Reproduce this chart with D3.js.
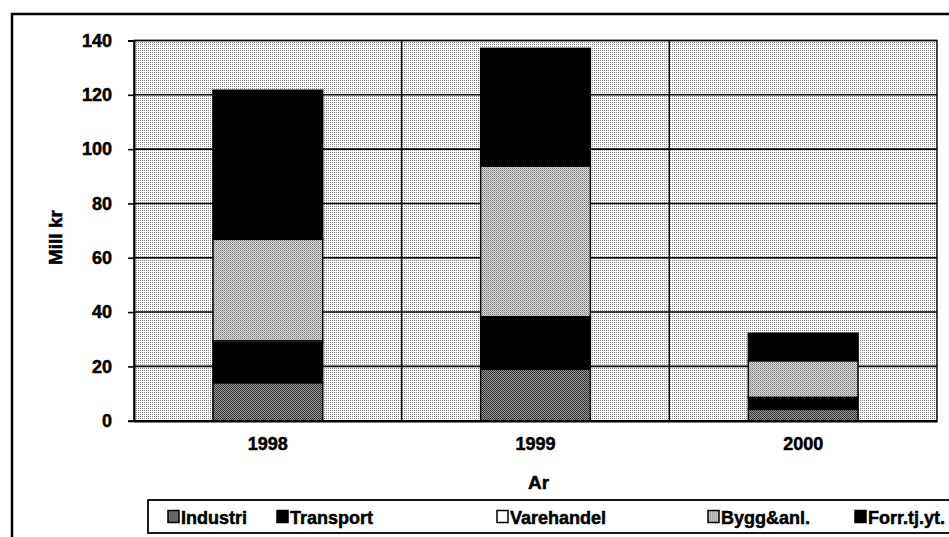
<!DOCTYPE html>
<html><head><meta charset="utf-8">
<script src="https://cdn.jsdelivr.net/npm/d3@7"></script>
<style>html,body{margin:0;padding:0;background:#fff;}svg{display:block;}
text{paint-order:stroke;}</style>
</head><body>
<svg id="chart" width="949" height="537"></svg>
<script>
const categories = ["1998", "1999", "2000"];
const seriesNames = ["Industri", "Transport", "Varehandel", "Bygg&anl.", "Forr.tj.yt."];
const industri   = [14.0, 19.0, 4.2];
const transport  = [14.7, 18.8, 4.4];
const varehandel = [0.7, 0.5, 0.0];
const bygg       = [37.4, 55.5, 13.5];
const forr       = [54.9, 43.3, 10.1];
const yTicks = [0, 20, 40, 60, 80, 100, 120, 140];
const xTitle = "Ar";
const yTitle = "Mill kr";

const seriesValues = [industri, transport, varehandel, bygg, forr];
const rows = categories.map((c, i) => {
  const r = {cat: c};
  seriesNames.forEach((s, j) => r[s] = seriesValues[j][i]);
  return r;
});
const stacked = d3.stack().keys(seriesNames)(rows);

const svg = d3.select("#chart");
const defs = svg.append("defs");
function pat(id, size, bg, dots) {
  const p = defs.append("pattern").attr("id", id).attr("patternUnits", "userSpaceOnUse")
    .attr("width", size).attr("height", size);
  p.append("rect").attr("width", size).attr("height", size).attr("fill", bg);
  dots.forEach(d => p.append("rect").attr("x", d[0]).attr("y", d[1]).attr("width", 1).attr("height", 1).attr("fill", d[2]));
}
pat("bgPat", 2, "#ffffff", [[0, 0, "#8a8a8a"]]);
pat("indPat", 2, "#9a9a9a", [[0, 0, "#2a2a2a"], [1, 1, "#3a3a3a"]]);
pat("byggPat", 2, "#dadada", [[0, 0, "#7a7a7a"], [1, 1, "#a4a4a4"]]);

const fills = {
  "Industri": "url(#indPat)",
  "Transport": "#000000",
  "Varehandel": "#ffffff",
  "Bygg&anl.": "url(#byggPat)",
  "Forr.tj.yt.": "#000000"
};

const FONT = "Liberation Sans, Arial, sans-serif";
const plot = {left: 134, right: 937, top: 40.5, bottom: 420.7};
const x = d3.scaleBand().domain(categories).range([plot.left, plot.right]).padding(0);
const y = d3.scaleLinear().domain([0, 140]).range([plot.bottom, plot.top]);
const barW = x.bandwidth() * 0.41;

// outer frame
svg.append("rect").attr("x", 12).attr("y", 14).attr("width", 960).attr("height", 560)
  .attr("fill", "none").attr("stroke", "#000").attr("stroke-width", 2.5);

// plot background
svg.append("rect").attr("x", plot.left).attr("y", plot.top)
  .attr("width", plot.right - plot.left).attr("height", plot.bottom - plot.top)
  .attr("fill", "url(#bgPat)");

// horizontal gridlines
svg.append("g").selectAll("line").data(yTicks).join("line")
  .attr("x1", plot.left).attr("x2", plot.right)
  .attr("y1", d => y(d)).attr("y2", d => y(d))
  .attr("stroke", "#000").attr("stroke-width", 1.6);

// vertical gridlines at category boundaries
svg.append("g").selectAll("line").data(categories.slice(1)).join("line")
  .attr("x1", d => x(d)).attr("x2", d => x(d))
  .attr("y1", plot.top).attr("y2", plot.bottom)
  .attr("stroke", "#000").attr("stroke-width", 1.4);

// plot border
svg.append("rect").attr("x", plot.left).attr("y", plot.top)
  .attr("width", plot.right - plot.left).attr("height", plot.bottom - plot.top)
  .attr("fill", "none").attr("stroke", "#000").attr("stroke-width", 1.4);

// bars
const bars = svg.append("g");
stacked.forEach(layer => {
  bars.append("g").selectAll("rect").data(layer.filter(d => d[1] - d[0] > 0)).join("rect")
    .attr("x", d => x(d.data.cat) + x.bandwidth() / 2 - barW / 2)
    .attr("width", barW)
    .attr("y", d => y(d[1]))
    .attr("height", d => y(d[0]) - y(d[1]))
    .attr("fill", fills[layer.key])
    .attr("stroke", "#000").attr("stroke-width", 1.5);
});

function heavy(sel, size) {
  sel.attr("font-family", FONT).attr("font-weight", "bold").attr("font-size", size)
    .attr("fill", "#000").attr("stroke", "#000").attr("stroke-width", 0.5);
}

// y axis
const yAxis = svg.append("g").attr("transform", `translate(${plot.left},0)`)
  .call(d3.axisLeft(y).tickValues(yTicks).tickSize(6).tickPadding(16).tickFormat(d3.format("d")));
yAxis.select(".domain").attr("stroke", "#000").attr("stroke-width", 2);
yAxis.selectAll(".tick line").attr("stroke", "#000").attr("stroke-width", 1.6);
heavy(yAxis.selectAll("text"), 18);

// x axis
const xAxis = svg.append("g").attr("transform", `translate(0,${plot.bottom})`)
  .call(d3.axisBottom(x).tickSize(0).tickPadding(17));
xAxis.select(".domain").attr("stroke", "#000").attr("stroke-width", 2.5);
heavy(xAxis.selectAll("text"), 18);

// titles
heavy(svg.append("text").attr("x", (plot.left + plot.right) / 2 + 3).attr("y", 489)
  .attr("text-anchor", "middle").text(xTitle), 19);
heavy(svg.append("text").attr("transform", `translate(62,${(plot.top + plot.bottom) / 2 + 7}) rotate(-90)`)
  .attr("text-anchor", "middle").text(yTitle), 19);

// legend
const legY = 500, legH = 33;
svg.append("rect").attr("x", 148).attr("y", legY).attr("width", 900).attr("height", legH)
  .attr("fill", "#fff").attr("stroke", "#000").attr("stroke-width", 1.8);
const legX = [168, 277, 497, 708, 855];
const leg = svg.append("g").selectAll("g").data(seriesNames).join("g")
  .attr("transform", (d, i) => `translate(${legX[i]},${legY + legH / 2})`);
leg.append("rect").attr("x", 0).attr("y", -6).attr("width", 11).attr("height", 12)
  .attr("fill", d => fills[d]).attr("stroke", "#000").attr("stroke-width", 1.5);
heavy(leg.append("text").attr("x", 13).attr("y", 7).text(d => d), 18);
</script>
</body></html>
